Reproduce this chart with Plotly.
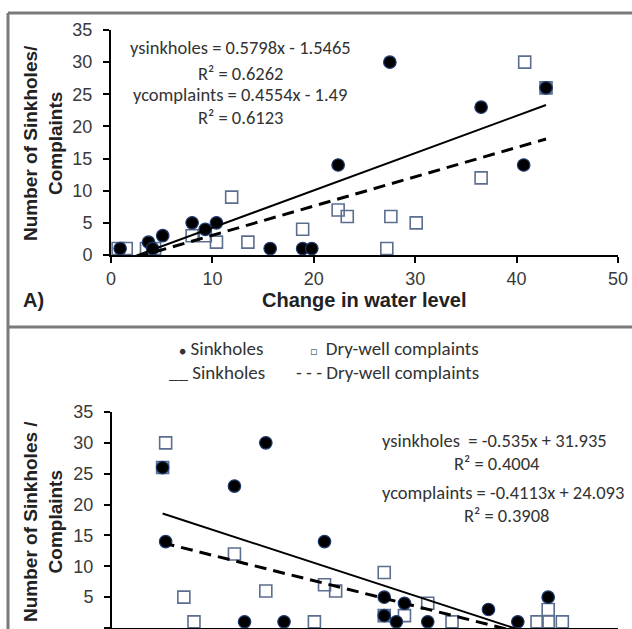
import plotly.graph_objects as go

W, H = 632, 629

# ---------------- data ----------------
# Panel A (top): change in water level
top_sink_x = [0.9, 3.7, 4.1, 5.1, 8.0, 9.3, 10.4, 15.7, 18.9, 19.8, 22.4, 27.5, 36.5, 40.7, 42.9]
top_sink_y = [1, 2, 1, 3, 5, 4, 5, 1, 1, 1, 14, 30, 23, 14, 26]
top_comp_x = [0.7, 1.5, 3.5, 4.3, 8.0, 9.3, 10.4, 11.9, 13.5, 18.9, 22.4, 23.3, 27.2, 27.6, 30.1, 36.5, 40.8, 42.9]
top_comp_y = [1, 1, 1, 1, 3, 3, 2, 9, 2, 4, 7, 6, 1, 6, 5, 12, 30, 26]
top_sink_fit = [0.5798, -1.5465]   # slope, intercept
top_comp_fit = [0.4554, -1.49]

# Panel B (bottom)
bot_sink_x = [25.0, 25.3, 32.1, 35.2, 33.1, 37.0, 41.0, 46.9, 48.9, 46.9, 48.1, 51.2, 57.2, 60.1, 63.1]
bot_sink_y = [26, 14, 23, 30, 1, 1, 14, 5, 4, 2, 1, 1, 3, 1, 5]
bot_comp_x = [25.3, 25.0, 32.1, 27.1, 28.1, 35.2, 40.0, 41.0, 42.1, 46.9, 46.9, 48.9, 51.2, 53.6, 62.0, 63.1, 64.5, 63.1]
bot_comp_y = [30, 26, 12, 5, 1, 6, 1, 7, 6, 9, 2, 2, 4, 1, 1, 1, 1, 3]
bot_sink_fit = [-0.535, 31.935]
bot_comp_fit = [-0.4113, 24.093]

top_x_ticks = [0, 10, 20, 30, 40, 50]
bot_x_ticks = [20, 30, 40, 50, 60, 70]
y_ticks = [0, 5, 10, 15, 20, 25, 30, 35]
bot_y_ticktext = ["", "5", "10", "15", "20", "25", "30", "35"]

top_eq = ["ysinkholes = 0.5798x - 1.5465", "R² = 0.6262", "ycomplaints = 0.4554x - 1.49", "R² = 0.6123"]
bot_eq = ["ysinkholes \u00a0= -0.535x + 31.935", "R² = 0.4004", "ycomplaints = -0.4113x + 24.093", "R² = 0.3908"]


def px(x):
    return x / W


def py(y):
    return 1 - y / H


TICK_FONT = dict(family="Liberation Sans, Arial", size=18, color="#3a3a3a")
EQ_FONT = dict(family="Carlito, Liberation Sans Narrow, Roboto", size=18.5, color="#333333")
LEG_FONT = dict(family="Carlito, Liberation Sans Narrow, Roboto", size=19, color="#333333")
YT_FONT = dict(family="Liberation Sans, Arial", size=19, color="#222222")
XT_FONT = dict(family="Liberation Sans, Arial", size=20, color="#222222")

SQ_COLOR = "#5b6e8e"
DOT_LINE = "#1f3a6e"

fig = go.Figure()


def add_panel(xs_c, ys_c, xs_s, ys_s, fit_s, fit_c, xa, ya):
    fig.add_trace(go.Scatter(x=xs_c, y=ys_c, mode="markers", xaxis=xa, yaxis=ya,
                             marker=dict(symbol="square-open", size=12, color=SQ_COLOR,
                                         line=dict(width=1.6, color=SQ_COLOR)),
                             cliponaxis=False, showlegend=False))
    fig.add_trace(go.Scatter(x=xs_s, y=ys_s, mode="markers", xaxis=xa, yaxis=ya,
                             marker=dict(symbol="circle", size=12.5, color="black",
                                         line=dict(width=1.2, color=DOT_LINE)),
                             cliponaxis=False, showlegend=False))
    x0, x1 = min(xs_s), max(xs_s)
    fig.add_trace(go.Scatter(x=[x0, x1], y=[fit_s[0] * x0 + fit_s[1], fit_s[0] * x1 + fit_s[1]],
                             mode="lines", xaxis=xa, yaxis=ya,
                             line=dict(color="black", width=2), showlegend=False))
    x0, x1 = min(xs_c), max(xs_c)
    fig.add_trace(go.Scatter(x=[x0, x1], y=[fit_c[0] * x0 + fit_c[1], fit_c[0] * x1 + fit_c[1]],
                             mode="lines", xaxis=xa, yaxis=ya,
                             line=dict(color="black", width=3, dash="12px,7px"), showlegend=False))


add_panel(top_comp_x, top_comp_y, top_sink_x, top_sink_y, top_sink_fit, top_comp_fit, "x", "y")
add_panel(bot_comp_x, bot_comp_y, bot_sink_x, bot_sink_y, bot_sink_fit, bot_comp_fit, "x2", "y2")

axis_common = dict(showline=True, linecolor="black", linewidth=2, ticks="outside", ticklen=6,
                   tickwidth=2, tickcolor="black", showgrid=False, zeroline=False,
                   tickfont=TICK_FONT, automargin=False)

fig.update_layout(
    width=W, height=H,
    margin=dict(l=0, r=0, t=0, b=0, autoexpand=False),
    paper_bgcolor="white", plot_bgcolor="white",
    showlegend=False,
    xaxis=dict(domain=[px(111), px(618)], range=[0, 50], tickvals=top_x_ticks, anchor="y", **axis_common),
    yaxis=dict(domain=[py(255), py(30)], range=[0, 35], tickvals=y_ticks, anchor="x",
               ticklabelstandoff=7, **axis_common),
    xaxis2=dict(domain=[px(112), px(618)], range=[20, 70], tickvals=bot_x_ticks, anchor="y2",
                showticklabels=False, **axis_common),
    yaxis2=dict(domain=[py(628), py(412)], range=[0, 35], tickvals=y_ticks, ticktext=bot_y_ticktext,
                anchor="x2", ticklabelstandoff=7, **axis_common),
)

# frame lines
frame = dict(color="#7a7a7a", width=3)
fig.add_shape(type="line", xref="paper", yref="paper", x0=px(8), x1=1, y0=py(13), y1=py(13), line=frame)
fig.add_shape(type="line", xref="paper", yref="paper", x0=px(8), x1=px(8), y0=py(13), y1=0, line=frame)
fig.add_shape(type="line", xref="paper", yref="paper", x0=px(8), x1=1, y0=py(327), y1=py(327), line=frame)

ann = []
# axis titles
ann.append(dict(text="<b>Number of Sinkholes/</b><br><b>Complaints</b>", x=px(43), y=py(143),
                textangle=-90, font=YT_FONT))
ann.append(dict(text="<b>Change in water level</b>", x=px(364), y=py(300), font=XT_FONT))
ann.append(dict(text="<b>A)</b>", x=px(33), y=py(300), font=XT_FONT))
ann.append(dict(text="<b>Number of Sinkholes /</b><br><b>Complaints</b>", x=px(43), y=py(522),
                textangle=-90, font=YT_FONT))

# top equations
for t, (xx, yy) in zip(top_eq, [(240, 48), (240, 73), (240, 95), (240, 117)]):
    ann.append(dict(text=t, x=px(xx), y=py(yy), font=EQ_FONT))
# bottom equations
ann.append(dict(text=bot_eq[0], x=px(380), y=py(440), xanchor="left", font=EQ_FONT))
ann.append(dict(text=bot_eq[1], x=px(497), y=py(463), font=EQ_FONT))
ann.append(dict(text=bot_eq[2], x=px(380), y=py(492), xanchor="left", font=EQ_FONT))
ann.append(dict(text=bot_eq[3], x=px(507), y=py(515), font=EQ_FONT))

# legend (bottom panel)
ann.append(dict(text="<span style='font-size:12px'>●</span> Sinkholes", x=px(177), y=py(349), xanchor="left", font=LEG_FONT))
ann.append(dict(text="<span style='font-size:12px;color:#5b6e8e'>□</span>  Dry-well complaints", x=px(308), y=py(349), xanchor="left", font=LEG_FONT))
ann.append(dict(text="__ Sinkholes", x=px(167), y=py(372), xanchor="left", font=LEG_FONT))
ann.append(dict(text="- - - Dry-well complaints", x=px(294), y=py(372), xanchor="left", font=LEG_FONT))

for a in ann:
    a.setdefault("xanchor", "center")
    a.update(xref="paper", yref="paper", showarrow=False, yanchor="middle")
    fig.add_annotation(**a)

fig.write_html("out.html")
